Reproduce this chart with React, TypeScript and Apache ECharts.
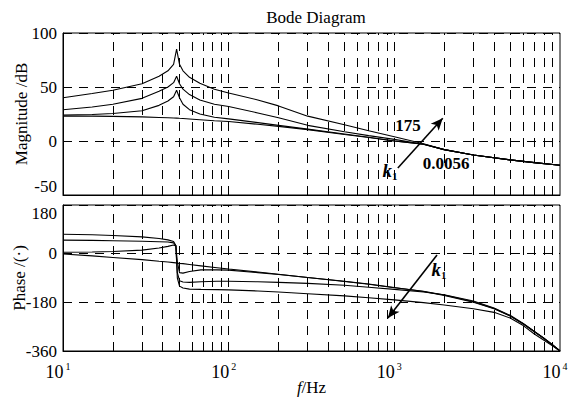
import React, { useEffect, useRef } from 'react';
import * as echarts from 'echarts';

// ---- data ----
const magFreq = [10, 15, 20, 30, 38, 43, 46.5, 48.5, 50.5, 53, 58, 67, 82, 100, 150, 200, 300, 500, 700, 1000, 1500, 2000, 3000, 5000, 7000, 10000];
const magK175 = [40, 44, 47, 53, 60, 65, 71, 85, 71, 65, 59, 53.5, 48, 44.5, 38, 32.5, 23, 15, 9.5, 4, -2.5, -8, -13, -17.5, -20, -22.5];
const magK2 = [29, 31.5, 34, 39.5, 46, 50, 54, 60, 53, 48, 43, 38, 34, 32, 26, 21.5, 14.5, 8.5, 5, 1.5, -3, -8, -13, -17.5, -20, -22.5];
const magK3 = [24, 24.5, 25.5, 28, 33, 37, 41, 47, 40, 34, 29, 25, 22, 20.5, 17, 14.5, 11, 6.5, 3.5, 0, -3, -8, -13, -17.5, -20, -22.5];
const magK0056 = [23, 23, 22.8, 22.3, 21.8, 21.5, 21.3, 21.2, 21, 20.8, 20.4, 19.7, 18.7, 18, 15.5, 13.5, 10.5, 6, 3.2, 0, -3, -8, -13, -17.5, -20, -22.5];

const phaseFreq = [10, 15, 20, 30, 38, 43, 46.5, 48, 49, 50.5, 53, 58, 68, 85, 100, 150, 200, 300, 500, 700, 1000, 1500, 2000, 3000, 4000, 5000, 6000, 7000, 8000, 9000, 10000];
const phaseK175 = [72, 70, 67, 62, 56, 51, 45, 30, -90, -120, -127, -131, -132, -133, -134, -138, -142, -148, -156, -163, -171, -181, -190, -204, -217, -238, -266, -297, -320, -341, -360];
const phaseK2 = [50, 49, 48, 46, 44, 43, 40, 30, -70, -100, -105, -106, -104, -102, -102, -104, -106, -110, -117, -124, -132, -142, -152, -175, -201, -228, -258, -288, -313, -337, -360];
const phaseK3 = [5, 6, 8, 13, 21, 27, 32, 28, -30, -70, -72, -66, -60, -60, -61, -70, -77, -88, -103, -113, -126, -139, -153, -178, -203, -230, -259, -288, -313, -337, -360];
const phaseK0056 = [-1, -8, -14, -22, -28, -31, -33, -34, -35, -36, -37, -40, -45, -52, -57, -68, -76, -88, -102, -112, -125, -140, -155, -180, -204, -231, -260, -289, -314, -338, -360];

const gridFreqs = [20, 30, 40, 50, 60, 70, 80, 90, 100, 200, 300, 400, 500, 600, 700, 800, 900, 1000, 2000, 3000, 4000, 5000, 6000, 7000, 8000, 9000];
const magTicks = [-50, 0, 50, 100];
const phaseTicks = [-360, -180, 0, 180];

// annotation arrows (data coordinates: [Hz, value])
const magArrow = [[1050, -25], [1960, 21]];
const phaseArrow = [[1810, -5], [915, -238]];

const FONT = 'Liberation Serif';

function pairs(xs: number[], ys: number[]) {
  return xs.map((x, i) => [x, ys[i]]);
}

export default function App() {
  const ref = useRef<HTMLDivElement>(null);
  useEffect(() => {
    const chart = echarts.init(ref.current!, null, { renderer: 'svg' });
    const dash = [9, 7];
    const vLines = {
      silent: true,
      symbol: ['none', 'none'],
      label: { show: false },
      lineStyle: { type: dash, color: '#000', width: 1 },
      emphasis: { disabled: true },
      data: gridFreqs.map((v) => ({ xAxis: v })),
    };
    const arrowLine = (pts: number[][]) => ({
      silent: true,
      symbol: ['none', 'arrow'],
      symbolSize: [8, 12],
      label: { show: false },
      lineStyle: { type: 'solid', color: '#000', width: 1.6 },
      emphasis: { disabled: true },
      data: [[{ coord: pts[0] }, { coord: pts[1] }]],
    });
    const lineSeries = (name: string, xi: number, data: number[][], extra: any = {}) => ({
      name,
      type: 'line',
      xAxisIndex: xi,
      yAxisIndex: xi,
      data,
      symbol: 'none',
      showSymbol: false,
      smooth: false,
      lineStyle: { color: '#000', width: 1.1 },
      emphasis: { disabled: true },
      ...extra,
    });
    const axisLabelStyle = { color: '#000', fontFamily: FONT, fontSize: 17 };
    const xBase = {
      type: 'log',
      logBase: 10,
      min: 10,
      max: 10000,
      splitLine: { show: false },
      axisTick: { show: false },
      axisLine: { show: true, onZero: false, lineStyle: { color: '#000' } },
    };
    const option: any = {
      animation: false,
      backgroundColor: '#fff',
      title: {
        text: 'Bode Diagram',
        left: 311,
        top: 4,
        textAlign: 'center',
        textStyle: { fontFamily: FONT, fontSize: 17, fontWeight: 'normal', color: '#000' },
      },
      grid: [
        { left: 63, top: 33, width: 497, height: 162, show: true, borderColor: '#000', borderWidth: 1, backgroundColor: 'transparent', containLabel: false, outerBoundsMode: 'none' },
        { left: 63, top: 205, width: 497, height: 146, show: true, borderColor: '#000', borderWidth: 1, backgroundColor: 'transparent', containLabel: false, outerBoundsMode: 'none' },
      ],
      xAxis: [
        { ...xBase, gridIndex: 0, axisLabel: { show: false } },
        {
          ...xBase,
          gridIndex: 1,
          name: '{i|f}{n|/Hz}',
          nameLocation: 'middle',
          nameGap: 28,
          nameMoveOverlap: false,
          nameTextStyle: {
            rich: {
              i: { fontFamily: FONT, fontSize: 17, fontStyle: 'italic', color: '#000' },
              n: { fontFamily: FONT, fontSize: 17, color: '#000' },
            },
          },
          axisLabel: {
            show: true,
            margin: 10,
            align: 'center',
            formatter: (v: number) => `{b|10}{s|${Math.round(Math.log10(v))}}`,
            rich: {
              b: { fontFamily: FONT, fontSize: 18, color: '#000', lineHeight: 20, verticalAlign: 'bottom' },
              s: { fontFamily: FONT, fontSize: 10, color: '#000', lineHeight: 20, verticalAlign: 'top', padding: [0, 10, 0, 2] },
            },
          },
        },
      ],
      yAxis: [
        {
          type: 'value',
          gridIndex: 0,
          min: magTicks[0],
          max: magTicks[magTicks.length - 1],
          interval: 50,
          name: 'Magnitude /dB',
          nameLocation: 'middle',
          nameGap: 33,
          nameMoveOverlap: false,
          nameRotate: 90,
          nameTextStyle: { fontFamily: FONT, fontSize: 17, color: '#000' },
          axisLabel: { ...axisLabelStyle, margin: 6, verticalAlignMinLabel: 'bottom' },
          axisTick: { show: false },
          axisLine: { show: true, lineStyle: { color: '#000' } },
          splitLine: { show: true, lineStyle: { type: dash, color: '#000', width: 1 } },
        },
        {
          type: 'value',
          gridIndex: 1,
          min: phaseTicks[0],
          max: phaseTicks[phaseTicks.length - 1],
          interval: 180,
          name: 'Phase /(·)',
          nameLocation: 'middle',
          nameGap: 35,
          nameMoveOverlap: false,
          nameRotate: 90,
          nameTextStyle: { fontFamily: FONT, fontSize: 17, color: '#000' },
          axisLabel: { ...axisLabelStyle, margin: 6, verticalAlignMaxLabel: 'top' },
          axisTick: { show: false },
          axisLine: { show: true, lineStyle: { color: '#000' } },
          splitLine: { show: true, lineStyle: { type: dash, color: '#000', width: 1 } },
        },
      ],
      series: [
        lineSeries('mag175', 0, pairs(magFreq, magK175), { markLine: vLines }),
        lineSeries('mag2', 0, pairs(magFreq, magK2), { markLine: arrowLine(magArrow) }),
        lineSeries('mag3', 0, pairs(magFreq, magK3)),
        lineSeries('mag0056', 0, pairs(magFreq, magK0056)),
        lineSeries('ph175', 1, pairs(phaseFreq, phaseK175), { markLine: vLines }),
        lineSeries('ph2', 1, pairs(phaseFreq, phaseK2), { markLine: arrowLine(phaseArrow) }),
        lineSeries('ph3', 1, pairs(phaseFreq, phaseK3)),
        lineSeries('ph0056', 1, pairs(phaseFreq, phaseK0056)),
      ],
      graphic: [
        {
          type: 'text',
          style: { text: '175', x: 408, y: 125, align: 'center', verticalAlign: 'middle', fontFamily: FONT, fontSize: 17, fontWeight: 'bold', fill: '#000' },
        },
        {
          type: 'text',
          style: { text: '0.0056', x: 446, y: 163, align: 'center', verticalAlign: 'middle', fontFamily: FONT, fontSize: 17, fontWeight: 'bold', fill: '#000' },
        },
        {
          type: 'text',
          style: {
            text: '{k|k}{s|1}',
            x: 390,
            y: 171,
            align: 'center',
            verticalAlign: 'middle',
            rich: {
              k: { fontFamily: FONT, fontSize: 19, fontStyle: 'italic', fontWeight: 'bold', fill: '#000', lineHeight: 20, verticalAlign: 'top' },
              s: { fontFamily: FONT, fontSize: 11, fontWeight: 'bold', fill: '#000', lineHeight: 20, verticalAlign: 'bottom' },
            },
          },
        },
        {
          type: 'text',
          style: {
            text: '{k|k}{s|1}',
            x: 439,
            y: 270,
            align: 'center',
            verticalAlign: 'middle',
            rich: {
              k: { fontFamily: FONT, fontSize: 19, fontStyle: 'italic', fontWeight: 'bold', fill: '#000', lineHeight: 20, verticalAlign: 'top' },
              s: { fontFamily: FONT, fontSize: 11, fontWeight: 'bold', fill: '#000', lineHeight: 20, verticalAlign: 'bottom' },
            },
          },
        },
      ],
    };
    chart.setOption(option);
    return () => chart.dispose();
  }, []);
  return <div ref={ref} style={{ position: 'fixed', left: 0, top: 0, width: 572, height: 399, background: '#fff' }} />;
}
